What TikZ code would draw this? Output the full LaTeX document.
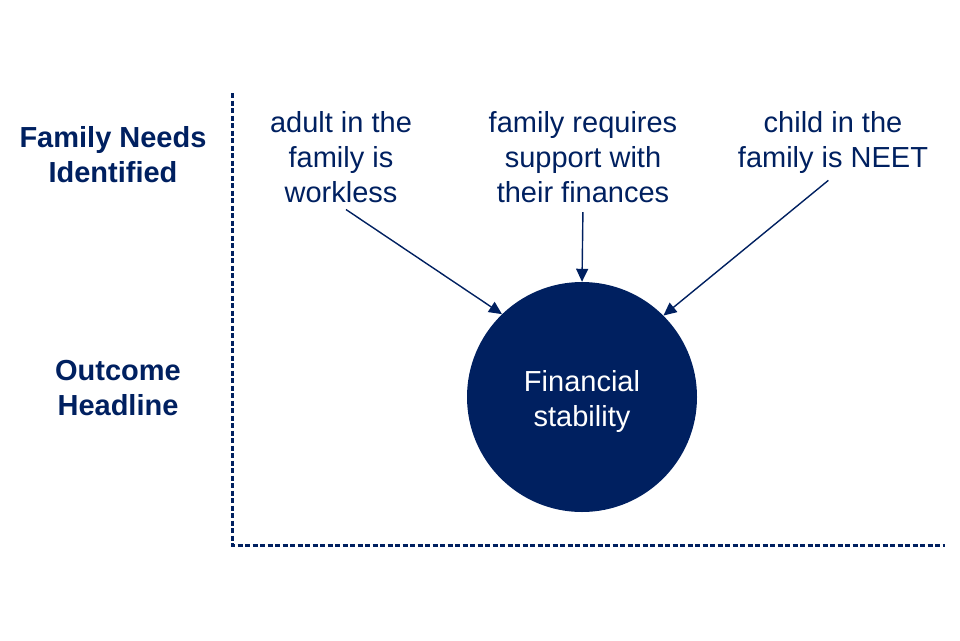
\documentclass[tikz,border=0pt]{standalone}
\usepackage{fontspec}
\setmainfont{Liberation Sans}
\usetikzlibrary{arrows.meta}
\definecolor{navy}{RGB}{0,32,96}
\tikzset{
  lbl/.style={text=navy, align=center, font=\fontsize{29}{35}\selectfont},
  head/.style={lbl, font=\fontsize{29}{35}\selectfont\bfseries},
  axis/.style={navy, line width=3pt, dash pattern=on 5pt off 2.5pt},
  feed/.style={navy, line width=1.4pt, -{Triangle[length=13pt,width=12pt]}, shorten <=6pt}
}
\begin{document}
\begin{tikzpicture}[x=1pt,y=-1pt]
\useasboundingbox (0,0) rectangle (960,640);

\draw [axis] (232,93) to (232,545) to (945,545);

\node [head] (needs) at (113,155) {Family Needs\\Identified};
\node [head] (headline) at (118,388) {Outcome\\Headline};

\node [lbl] (adult) at (341,157) {adult in the\\family is\\workless};
\node [lbl] (money) at (583,157) {family requires\\support with\\their finances};
\node [lbl] (child) at (833,142) {child in the\\family is NEET};

\node [circle, fill=navy, minimum size=230pt, inner sep=0pt,
  label={[lbl, text=white, yshift=-4pt]center:Financial\\stability}] (fin) at (582,397) {};

\draw [feed] (adult.south) to (fin.134);
\draw [feed] (money.south) to (fin.90);
\draw [feed] (child.south) to (fin.45);
\end{tikzpicture}
\end{document}
